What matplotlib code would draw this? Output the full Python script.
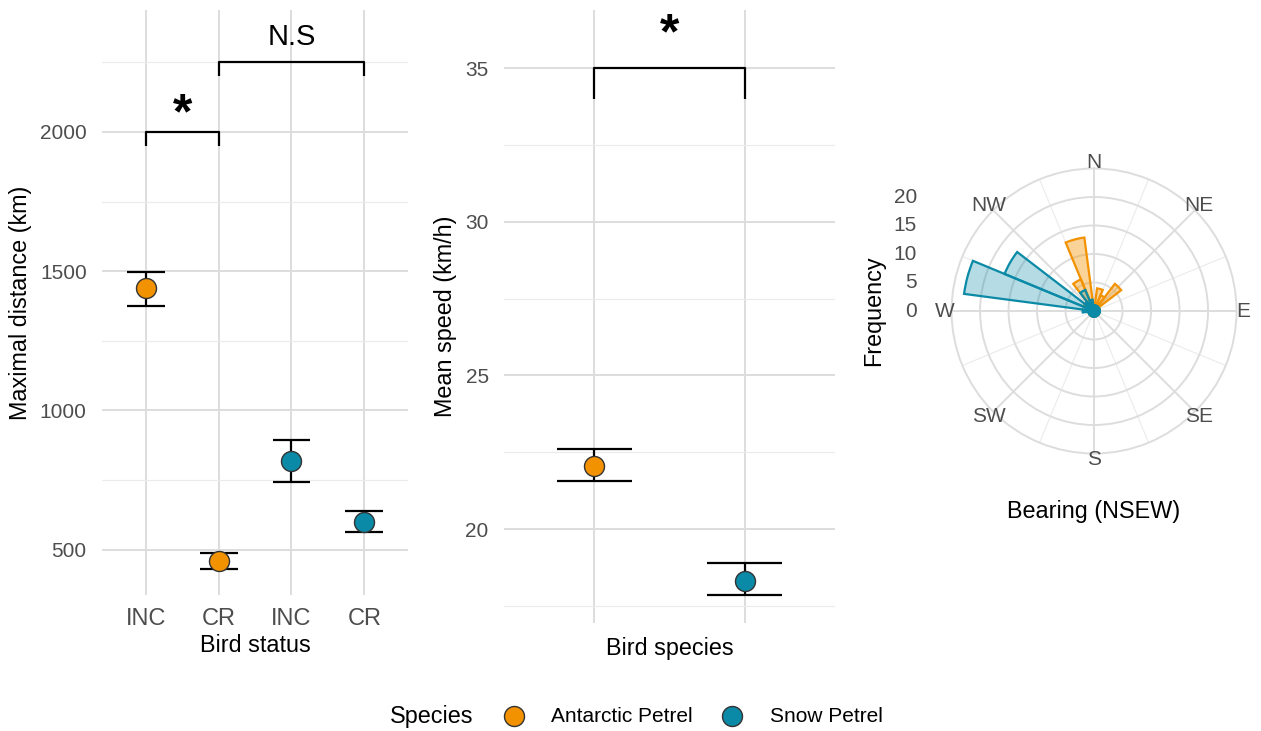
import numpy as np
import matplotlib
matplotlib.use("Agg")
import matplotlib.pyplot as plt

plt.rcParams['font.family'] = ['Liberation Sans', 'DejaVu Sans']

# colours per species
species = ["Antarctic Petrel", "Snow Petrel"]
colors = {"Antarctic Petrel": "#F39200", "Snow Petrel": "#0A8AA6"}

# maximal distance by breeding status
status_labels = ["INC", "CR", "INC", "CR"]
status_species = ["Antarctic Petrel", "Antarctic Petrel", "Snow Petrel", "Snow Petrel"]
dist_mean = [1438, 460, 818, 600]
dist_low = [1376, 432, 743, 562]
dist_high = [1497, 487, 892, 638]

# mean speed by species
speed_mean = [22.05, 18.3]
speed_low = [21.55, 17.85]
speed_high = [22.6, 18.9]

# bearing histogram, 15 degree bins
bin_centers = np.arange(0, 360, 15)
count_antarctic = [1, 4, 3, 6, 1, 1, 1, 0, 1, 1, 0, 1,
                   1, 0, 1, 1, 0, 1, 1, 1, 2, 2, 6, 13]
count_snow = [1, 1, 1, 1, 1, 1, 1, 1, 1, 1, 1, 1,
              1, 1, 1, 1, 1, 1, 2, 23, 17, 2, 4, 2]

compass = ["N", "NE", "E", "SE", "S", "SW", "W", "NW"]

tick_col = "#4d4d4d"
major_grid = dict(color="#dddddd", linewidth=1.4)
minor_grid = dict(color="#ebebeb", linewidth=0.8)
TICK = 15
XTICK = 17
TITLE = 16.8


def style_cartesian(ax):
    for s in ax.spines.values():
        s.set_visible(False)
    ax.tick_params(axis="both", length=0, labelsize=TICK, labelcolor=tick_col)
    ax.tick_params(axis="y", pad=11)
    ax.tick_params(axis="x", pad=9, labelsize=XTICK)
    ax.grid(True, which="major", **major_grid)
    ax.grid(True, which="minor", axis="y", **minor_grid)
    ax.set_axisbelow(True)


def point_errorbar(ax, x, m, lo, hi, c, cap=0.26):
    ax.vlines(x, lo, hi, color="black", linewidth=1.6, zorder=3)
    ax.hlines([lo, hi], x - cap, x + cap, color="black", linewidth=1.6, zorder=3)
    ax.plot(x, m, "o", markersize=14.4, markerfacecolor=c,
            markeredgecolor="#333333", markeredgewidth=1.0, zorder=4)


def bracket(ax, x0, x1, y, drop, label, ty, size, weight="normal"):
    ax.plot([x0, x0, x1, x1], [y - drop, y, y, y - drop], color="black",
            linewidth=1.6, solid_capstyle="butt", zorder=3)
    ax.text((x0 + x1) / 2, ty, label, ha="center", va="center",
            fontsize=size, fontweight=weight)


fig = plt.figure(figsize=(12.61, 7.31), dpi=100)

# --- maximal distance panel
ax1 = fig.add_axes([0.0809, 0.1860, 0.2427, 0.8003])
style_cartesian(ax1)
xs = np.arange(1, 5)
for x, m, lo, hi, sp in zip(xs, dist_mean, dist_low, dist_high, status_species):
    point_errorbar(ax1, x, m, lo, hi, colors[sp])
bracket(ax1, 1, 2, 2000, 50, "*", 2058, 36, "bold")
bracket(ax1, 2, 4, 2250, 50, "N.S", 2342, 21)
ax1.set_xlim(0.4, 4.6)
ax1.set_ylim(337, 2438)
ax1.set_xticks(xs)
ax1.set_xticklabels(status_labels)
ax1.set_yticks([500, 1000, 1500, 2000])
ax1.set_yticks([750, 1250, 1750, 2250], minor=True)
ax1.tick_params(axis="y", which="minor", length=0)
ax1.set_xlabel("Bird status", fontsize=TITLE, labelpad=3)
ax1.set_ylabel("Maximal distance (km)", fontsize=TITLE, labelpad=6)

# --- mean speed panel
ax2 = fig.add_axes([0.3997, 0.1477, 0.2625, 0.8386])
style_cartesian(ax2)
for x, m, lo, hi, sp in zip([1, 2], speed_mean, speed_low, speed_high, species):
    point_errorbar(ax2, x, m, lo, hi, colors[sp], cap=0.25)
bracket(ax2, 1, 2, 35, 1, "*", 36.05, 36, "bold")
ax2.set_xlim(0.4, 2.6)
ax2.set_ylim(16.94, 36.89)
ax2.set_xticks([1, 2])
ax2.set_xticklabels(["", ""])
ax2.tick_params(axis="x", labelsize=TICK)
ax2.set_yticks([20, 25, 30, 35])
ax2.set_yticks([17.5, 22.5, 27.5, 32.5], minor=True)
ax2.tick_params(axis="y", which="minor", length=0)
ax2.set_xlabel("Bird species", fontsize=TITLE, labelpad=1)
ax2.set_ylabel("Mean speed (km/h)", fontsize=TITLE, labelpad=6)

# --- bearing rose
ax3 = fig.add_axes([0.7546, 0.3796, 0.2260, 0.3899], projection="polar")
ax3.set_theta_zero_location("N")
ax3.set_theta_direction(-1)
theta = np.radians(bin_centers)
w = np.radians(15)
ax3.bar(theta, count_antarctic, width=w, bottom=0,
        facecolor=matplotlib.colors.to_rgba(colors["Antarctic Petrel"], 0.4),
        edgecolor=colors["Antarctic Petrel"], linewidth=1.6, zorder=3)
ax3.bar(theta, count_snow, width=w, bottom=0,
        facecolor=matplotlib.colors.to_rgba(colors["Snow Petrel"], 0.3),
        edgecolor=colors["Snow Petrel"], linewidth=1.6, zorder=4)
ax3.set_ylim(0, 25)
ax3.set_xticks(np.radians(np.arange(0, 360, 45)))
ax3.set_xticks(np.radians(np.arange(22.5, 360, 45)), minor=True)
ax3.set_xticklabels([])
ax3.set_yticks([5, 10, 15, 20])
ax3.set_yticklabels([])
ax3.tick_params(which="both", length=0)
ax3.grid(True, which="major", **major_grid)
ax3.xaxis.grid(True, which="minor", **minor_grid)
ax3.spines["polar"].set_color("#dddddd")
ax3.spines["polar"].set_linewidth(1.4)
ax3.set_axisbelow(True)
for ang, lab in zip(np.arange(0, 360, 45), compass):
    ax3.text(np.radians(ang), 26.1, lab, ha="center", va="center",
             fontsize=TICK, color=tick_col)
for v in [0, 5, 10, 15, 20]:
    ax3.text(-0.122, 0.5 + v / 50, str(v), transform=ax3.transAxes,
             ha="right", va="center", fontsize=TICK, color=tick_col)
ax3.text(-0.275, 0.5, "Frequency", transform=ax3.transAxes, rotation=90,
         ha="center", va="center", fontsize=TITLE)
ax3.text(0.5, -0.205, "Bearing (NSEW)", transform=ax3.transAxes,
         ha="center", va="center", fontsize=TITLE)

# --- legend strip along the bottom
leg = fig.add_axes([0, 0, 1, 1], facecolor="none")
leg.set_xlim(0, 1261)
leg.set_ylim(731, 0)
leg.axis("off")
leg.text(390, 716, "Species", ha="left", va="center", fontsize=TITLE)
for mx, tx, sp in zip([514, 732], [551, 770], species):
    leg.plot(mx, 716, "o", markersize=14.4, markerfacecolor=colors[sp],
             markeredgecolor="#333333", markeredgewidth=1.0)
    leg.text(tx, 716, sp, ha="left", va="center", fontsize=TICK)

fig.savefig("out.png", dpi=100, facecolor="white")
